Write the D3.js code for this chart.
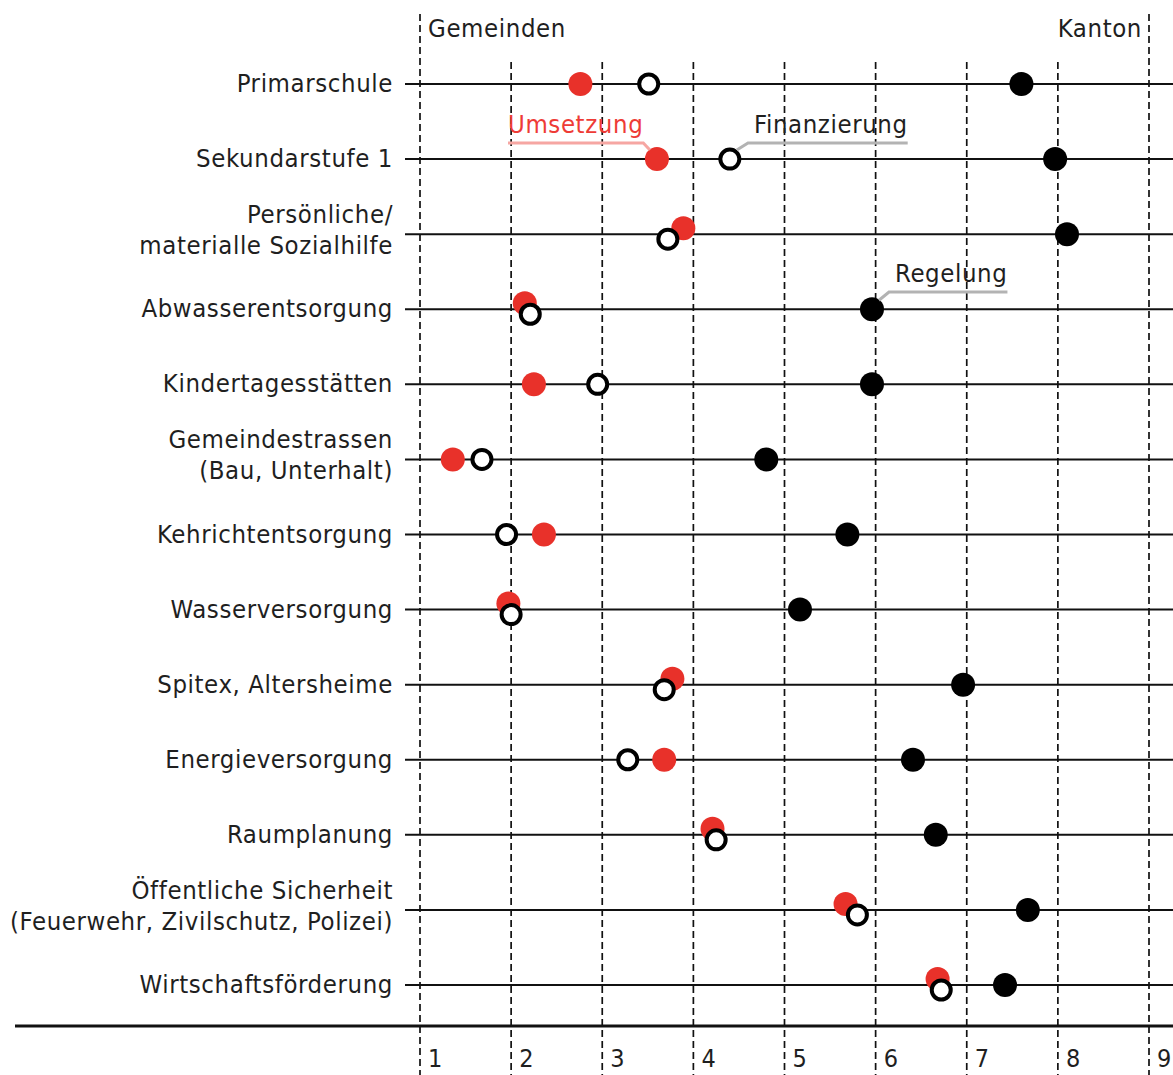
<!DOCTYPE html>
<html><head><meta charset="utf-8">
<script src="https://cdn.jsdelivr.net/npm/d3@7"></script>
<style>
html,body{margin:0;padding:0;background:#fff;}
text{font-family:"DejaVu Sans Condensed","DejaVu Sans",sans-serif;fill:#1f1f1f;}
</style></head>
<body><svg id="c" width="1173" height="1075"></svg>
<script>
const categories = [
  ["Primarschule"],
  ["Sekundarstufe 1"],
  ["Persönliche/", "materialle Sozialhilfe"],
  ["Abwasserentsorgung"],
  ["Kindertagesstätten"],
  ["Gemeindestrassen", "(Bau, Unterhalt)"],
  ["Kehrichtentsorgung"],
  ["Wasserversorgung"],
  ["Spitex, Altersheime"],
  ["Energieversorgung"],
  ["Raumplanung"],
  ["Öffentliche Sicherheit", "(Feuerwehr, Zivilschutz, Polizei)"],
  ["Wirtschaftsförderung"]
];
const umsetzung    = [2.76, 3.60, 3.89, 2.15, 2.25, 1.36, 2.36, 1.97, 3.77, 3.68, 4.21, 5.67, 6.68];
const finanzierung = [3.51, 4.40, 3.72, 2.21, 2.95, 1.68, 1.95, 2.00, 3.68, 3.28, 4.25, 5.80, 6.72];
const regelung     = [7.60, 7.97, 8.10, 5.96, 5.96, 4.80, 5.69, 5.17, 6.96, 6.41, 6.66, 7.67, 7.42];
const tickValues = [1, 2, 3, 4, 5, 6, 7, 8, 9];
const endLabels = ["Gemeinden", "Kanton"];
const seriesNames = ["Umsetzung", "Finanzierung", "Regelung"];

const svg = d3.select("#c");
const x = d3.scaleLinear().domain([1, 9]).range([420, 1149]);
const y = d3.scalePoint().domain(d3.range(categories.length)).range([84, 985]);
const RED = "#e8312a";
const FS = 25.5, LS = "0.6px";

// vertical dashed gridlines
svg.append("g").selectAll("line").data(tickValues).join("line")
  .attr("x1", d => x(d)).attr("x2", d => x(d))
  .attr("y1", d => (d === 1 || d === 9) ? 14 : 62)
  .attr("y2", 1075)
  .attr("stroke", "#111").attr("stroke-width", 1.7)
  .attr("stroke-dasharray", "7,4");

// row lines
svg.append("g").selectAll("line").data(categories).join("line")
  .attr("x1", 405).attr("x2", 1173)
  .attr("y1", (d, i) => y(i)).attr("y2", (d, i) => y(i))
  .attr("stroke", "#111").attr("stroke-width", 2);

// bottom axis line
svg.append("line").attr("x1", 15).attr("x2", 1173).attr("y1", 1026).attr("y2", 1026)
  .attr("stroke", "#111").attr("stroke-width", 3);

// tick labels
svg.append("g").selectAll("text").data(tickValues).join("text")
  .attr("x", d => x(d) + 8).attr("y", 1067)
  .attr("font-size", 25).text(d => d);

// category labels
const lab = svg.append("g").selectAll("text").data(categories).join("text")
  .attr("text-anchor", "end").attr("font-size", FS).style("letter-spacing", LS)
  .attr("x", 393)
  .attr("y", (d, i) => y(i) + (d.length === 1 ? 8 : -11));
lab.selectAll("tspan").data(d => d).join("tspan")
  .attr("x", 393).attr("dy", (d, j) => j === 0 ? 0 : 31).text(d => d);

// end labels
svg.append("text").attr("x", 428).attr("y", 37).attr("font-size", FS).style("letter-spacing", LS).text(endLabels[0]);
svg.append("text").attr("x", 1142).attr("y", 37).attr("font-size", FS).style("letter-spacing", LS)
  .attr("text-anchor", "end").text(endLabels[1]);

// offsets for overlapping points
const overlap = i => Math.abs(umsetzung[i] - finanzierung[i]) < 0.25;

const idx = d3.range(categories.length);
// Umsetzung (red)
svg.append("g").selectAll("circle").data(idx).join("circle")
  .attr("cx", i => x(umsetzung[i])).attr("cy", i => y(i) + (overlap(i) ? -6 : 0))
  .attr("r", 12).attr("fill", RED);
// Finanzierung (open)
svg.append("g").selectAll("circle").data(idx).join("circle")
  .attr("cx", i => x(finanzierung[i])).attr("cy", i => y(i) + (overlap(i) ? 5 : 0))
  .attr("r", 9.5).attr("fill", "#fff").attr("stroke", "#000").attr("stroke-width", 4);
// Regelung (black)
svg.append("g").selectAll("circle").data(idx).join("circle")
  .attr("cx", i => x(regelung[i])).attr("cy", i => y(i))
  .attr("r", 12).attr("fill", "#000");

// annotations
function annotate(px, py, tx, ty, anchorSide, color, lineColor, label) {
  const g = svg.append("g");
  const t = g.append("text").attr("x", tx).attr("y", ty).attr("font-size", FS)
    .style("letter-spacing", LS).style("fill", color).text(label);
  const w = t.node().getComputedTextLength();
  const uy = ty + 10;
  let d;
  if (anchorSide === "right") {
    d = `M${tx},${uy}L${tx + w},${uy}L${px - 7},${py - 9}`;
  } else {
    d = `M${tx + w},${uy}L${tx - 6},${uy}L${px + 7},${py - 9}`;
  }
  g.insert("path", "text").attr("d", d)
    .attr("fill", "none").attr("stroke", lineColor).attr("stroke-width", 3);
}
annotate(x(umsetzung[1]), y(1), 508, 133, "right", "#ee3b36", "#f6a6a2", seriesNames[0]);
annotate(x(finanzierung[1]), y(1), 754, 133, "left", "#1f1f1f", "#b3b3b3", seriesNames[1]);
annotate(x(regelung[3]), y(3), 895, 282, "left", "#1f1f1f", "#b3b3b3", seriesNames[2]);
</script></body></html>
